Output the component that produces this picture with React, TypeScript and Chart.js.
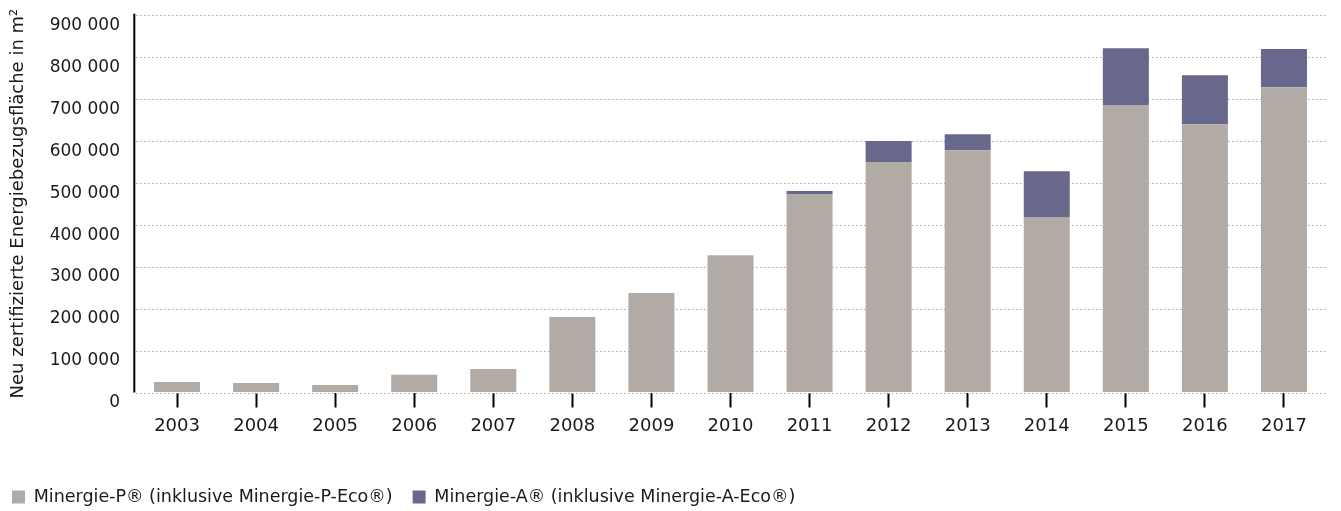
import React, { useEffect, useRef } from "react";
import { Chart, registerables } from "chart.js";

Chart.register(...registerables);

const years = ["2003", "2004", "2005", "2006", "2007", "2008", "2009", "2010", "2011", "2012", "2013", "2014", "2015", "2016", "2017"];
const minergieP = [25000, 22600, 18000, 42000, 56000, 180000, 237000, 327000, 473000, 549000, 577000, 418000, 685000, 639000, 727000];
const minergieA = [0, 0, 0, 0, 0, 0, 0, 0, 7000, 50000, 38000, 109000, 135000, 117000, 91000];
const seriesLabels = ["Minergie-P® (inklusive Minergie-P-Eco®)", "Minergie-A® (inklusive Minergie-A-Eco®)"];
const yTitle = "Neu zertifizierte Energiebezugsfläche in m²";
const yMax = 900000;
const yStep = 100000;

const FONT = "'DejaVu Sans', sans-serif";

const gridPlugin = {
  id: "customGrid",
  beforeDatasetsDraw(chart: any) {
    const { ctx, chartArea, scales } = chart;
    const y = scales.y;
    ctx.save();
    ctx.strokeStyle = "#a8a8a8";
    ctx.lineWidth = 1;
    ctx.setLineDash([1.5, 2.5]);
    y.ticks.forEach((t: any) => {
      const py = Math.round(y.getPixelForValue(t.value)) + 0.5;
      ctx.beginPath();
      ctx.moveTo(chartArea.left - 1.5, py);
      ctx.lineTo(chartArea.right + 4.5, py);
      ctx.stroke();
    });
    ctx.setLineDash([]);
    ctx.strokeStyle = "#000";
    ctx.lineWidth = 2;
    ctx.beginPath();
    ctx.moveTo(chartArea.left - 3.2, y.getPixelForValue(yMax) - 1);
    ctx.lineTo(chartArea.left - 3.2, y.getPixelForValue(0));
    ctx.stroke();
    ctx.restore();
  },
};

export default function App() {
  const ref = useRef<HTMLCanvasElement | null>(null);
  useEffect(() => {
    if (!ref.current) return;
    const chart = new Chart(ref.current, {
      type: "bar",
      data: {
        labels: years,
        datasets: [
          { label: seriesLabels[0], data: minergieP, backgroundColor: "#b2aba5", borderWidth: 0 },
          { label: seriesLabels[1], data: minergieA, backgroundColor: "#67688b", borderWidth: 0 },
        ],
      },
      plugins: [gridPlugin],
      options: {
        animation: false,
        responsive: false,
        layout: { padding: { left: -8, right: 17.5, top: 14.7, bottom: -4.75 } },
        datasets: { bar: { categoryPercentage: 1, barPercentage: 0.582 } },
        plugins: {
          tooltip: { enabled: false },
          legend: {
            position: "bottom",
            align: "start",
            labels: {
              boxWidth: 13,
              boxHeight: 13,
              padding: 20,
              color: "#1a1a1a",
              font: { family: FONT, size: 17.5 },
            },
          },
        },
        scales: {
          x: {
            stacked: true,
            afterFit: (s: any) => { s.height = 75.75; },
            border: { display: false },
            grid: {
              offset: false,
              drawOnChartArea: false,
              drawTicks: true,
              tickLength: 15,
              tickColor: "#000",
              tickWidth: 2,
            },
            ticks: { color: "#1a1a1a", padding: 8, font: { family: FONT, size: 18 }, maxRotation: 0, autoSkip: false },
          },
          y: {
            stacked: true,
            min: 0,
            max: yMax,
            afterFit: (s: any) => { s.width = 145.5; },
            border: { display: false },
            grid: {
              display: true,
              drawOnChartArea: false,
              drawTicks: true,
              tickLength: 15,
              tickColor: "rgba(0,0,0,0)",
            },
            ticks: {
              stepSize: yStep,
              padding: 2.5,
              labelOffset: 10.5,
              color: "#1a1a1a",
              font: { family: FONT, size: 17 },
              callback: (v: any) => {
                const n = Number(v);
                if (n === 0) return "0";
                const s = String(n);
                return s.slice(0, s.length - 3) + " " + s.slice(s.length - 3);
              },
            },
            title: {
              display: true,
              text: yTitle,
              color: "#1a1a1a",
              font: { family: FONT, size: 18 },
              padding: { top: 15.2, bottom: 0 },
            },
          },
        },
      },
    });
    return () => chart.destroy();
  }, []);
  return (
    <div style={{ position: "absolute", left: 0, top: 0, width: 1341, height: 511, background: "#fff" }}>
      <canvas ref={ref} width={1341} height={511} style={{ display: "block" }} />
    </div>
  );
}
